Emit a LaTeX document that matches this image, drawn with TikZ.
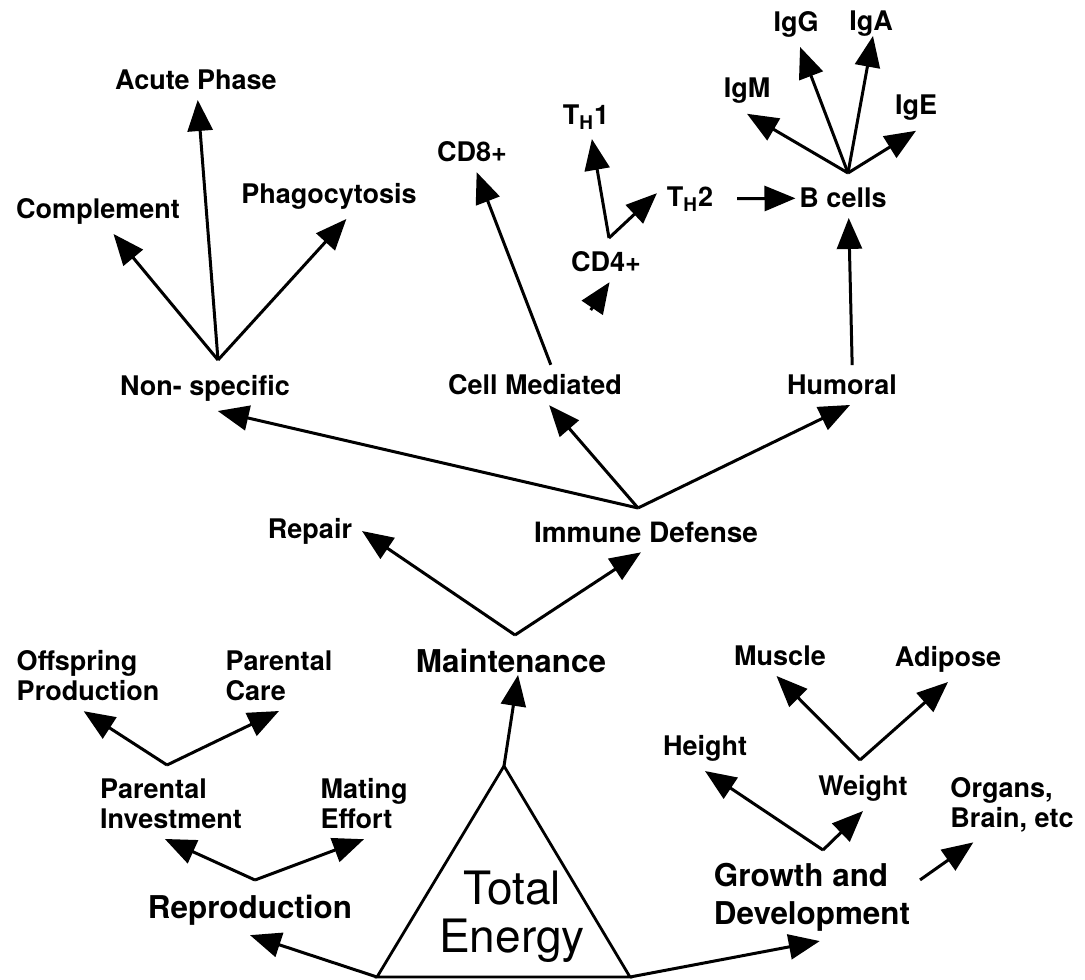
\documentclass[tikz,border=0pt]{standalone}
\usepackage{fontspec}
\setmainfont{TeX Gyre Heros}
\usepackage{tikz}
\usetikzlibrary{arrows.meta,calc}
\tikzset{
  lbl/.style={font=\fontsize{13.5}{15}\selectfont\bfseries,inner sep=3pt,outer sep=2pt,align=left},
  big/.style={lbl,font=\fontsize{15.7}{19}\selectfont\bfseries},
  arr/.style={-{Triangle[length=15.5pt,width=12.5pt]},line width=1.5pt},
  edge/.style={line width=1.4pt,line join=miter},
}

\begin{document}
\begin{tikzpicture}[x=0.5pt,y=-0.5pt]
\useasboundingbox (0,0) rectangle (1085,979);
% energy triangle
\coordinate (apex) at (504,766);
\coordinate (cornL) at (377,977);
\coordinate (cornR) at (630,977);
\draw[edge] (apex) -- (cornL) -- (cornR) -- cycle;
\node[font=\fontsize{23}{24}\selectfont,align=center] (total) at (512,917) {Total\\Energy};
% top level
\node[big] (maint) at (511,661) {Maintenance};
\node[big] (reprod) at (250,910) {Reproduction};
\node[big] (growth) at (812,897) {Growth and\\[0pt]Development};
\draw[arr,shorten >=-4pt] (apex) -- (maint.-75);
\draw[arr] (cornL) -- (reprod.south);
\draw[arr] (cornR) -- (growth.-80);
% reproduction
\node[lbl] (parinv) at (171,804) {Parental\\Investment};
\node[lbl] (mating) at (364,804) {Mating\\Effort};
\node[lbl] (offspring) at (88,676) {Offspring\\Production};
\node[lbl] (parcare) at (279,676) {Parental\\Care};
\coordinate (fRP) at (255,880);
\coordinate (fPI) at (167,765);
\draw[arr] (fRP) -- (parinv.-100);
\draw[arr] (fRP) -- (mating.south);
\draw[arr] (fPI) -- (offspring.-97);
\draw[arr] (fPI) -- (parcare.south);
% growth
\node[lbl] (height) at (705,748) {Height};
\node[lbl] (weight) at (863,788) {Weight};
\node[lbl] (muscle) at (780,656) {Muscle};
\node[lbl] (adipose) at (948,659) {Adipose};
\node[lbl] (organs) at (1012,805) {Organs,\\Brain, etc};
\coordinate (fGD) at (823,850);
\coordinate (fWT) at (860,760);
\draw[arr] (fGD) -- (height.south);
\draw[arr] (fGD) -- (weight.south);
\draw[arr] (fWT) -- (muscle.-100);
\draw[arr] (fWT) -- (adipose.south);
\draw[arr] (growth.9) -- (organs.-136);
% maintenance
\node[lbl] (repair) at (310,531) {Repair};
\node[lbl,font=\fontsize{14}{15}\selectfont\bfseries] (immune) at (646,532) {Immune Defense};
\coordinate (fMT) at (515,635);
\draw[arr] (fMT) -- (repair.east);
\draw[arr] (fMT) -- (immune.-104);
% immune defense
\node[lbl] (nonspec) at (205,388) {Non- specific};
\node[lbl] (cellmed) at (535,385) {Cell Mediated};
\node[lbl] (humoral) at (842,385) {Humoral};
\coordinate (fIM) at (638,508);
\draw[arr] (fIM) -- (nonspec.-61);
\draw[arr] (fIM) -- (cellmed.-55);
\draw[arr] (fIM) -- (humoral.-68);
% non-specific
\node[lbl] (compl) at (98,211) {Complement};
\node[lbl] (acute) at (196,80) {Acute Phase};
\node[lbl] (phago) at (329,196) {Phagocytosis};
\coordinate (fNS) at (218,360);
\draw[arr] (fNS) -- (compl.-56);
\draw[arr] (fNS) -- (acute.-85);
\draw[arr] (fNS) -- (phago.-53);
% cell mediated
\node[lbl] (cd8) at (472,152) {CD8+};
\node[lbl] (cd4) at (606,262) {CD4+};
\node[lbl] (th1) at (586,117) {T\textsubscript{H}1};
\node[lbl] (th2) at (690,199) {T\textsubscript{H}2};
\coordinate (fCD4) at (609,238);
\coordinate (stub) at (584,320);
\draw[arr,shorten <=6pt] (stub) -- (cd4.-80);
\draw[arr] (cellmed.52) -- (cd8.-77);
\draw[arr] (fCD4) -- (th1.-75);
\draw[arr] (fCD4) -- (th2.170);
% humoral
\node[lbl] (bcells) at (843,198) {B cells};
\node[lbl] (igm) at (747,91) {IgM};
\node[lbl] (igg) at (796,24) {IgG};
\node[lbl] (iga) at (871,24) {IgA};
\node[lbl] (ige) at (916,108) {IgE};
\coordinate (fBC) at (848,173);
\draw[arr,shorten <=7pt,shorten >=-3pt] (th2) -- (bcells);
\draw[arr] (humoral.63) -- (bcells.-74);
\draw[arr] (fBC) -- (igm.south);
\draw[arr] (fBC) -- (igg.-80);
\draw[arr,shorten >=-5.5pt] (fBC) -- (iga.south);
\draw[arr] (fBC) -- (ige.south);
\end{tikzpicture}
\end{document}
